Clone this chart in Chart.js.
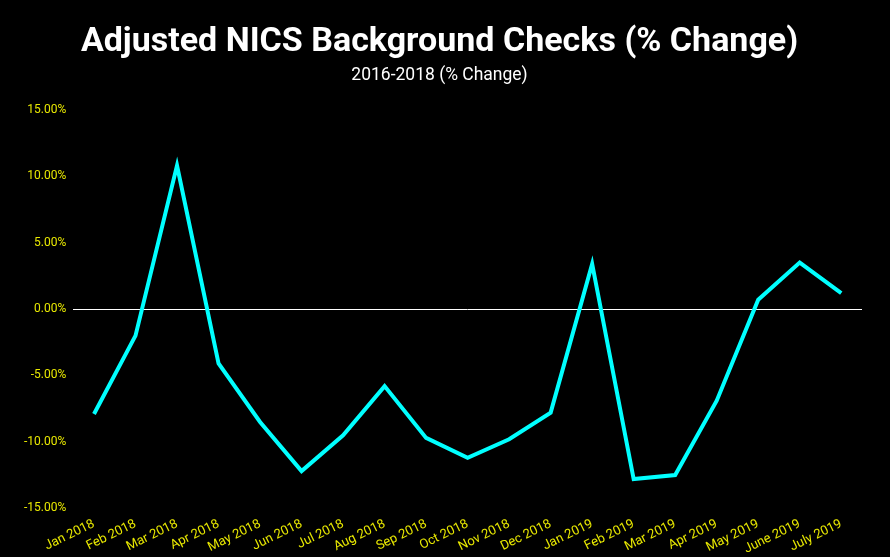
<!DOCTYPE html>
<html>
<head>
<meta charset="utf-8">
<title>Adjusted NICS Background Checks</title>
<script src="https://cdn.jsdelivr.net/npm/chart.js"></script>
<style>
  html, body { margin: 0; padding: 0; background: #000; }
  #wrap { width: 890px; height: 557px; }
</style>
</head>
<body>
<div id="wrap"><canvas id="nics"></canvas></div>
<script>
// Data
const months = ['Jan 2018', 'Feb 2018', 'Mar 2018', 'Apr 2018', 'May 2018', 'Jun 2018',
  'Jul 2018', 'Aug 2018', 'Sep 2018', 'Oct 2018', 'Nov 2018', 'Dec 2018',
  'Jan 2019', 'Feb 2019', 'Mar 2019', 'Apr 2019', 'May 2019', 'June 2019', 'July 2019'];
const pctChange = [-7.9, -2.0, 10.8, -4.1, -8.5, -12.2, -9.5, -5.8, -9.7, -11.2,
  -9.8, -7.8, 3.4, -12.8, -12.5, -6.9, 0.7, 3.5, 1.2];
const yMin = -15, yMax = 15, yStep = 5;

const tickColor = '#e8e800';
Chart.defaults.font.family = 'Roboto, sans-serif';

new Chart(document.getElementById('nics'), {
  type: 'line',
  data: {
    labels: months,
    datasets: [{
      label: '% Change',
      data: pctChange,
      borderColor: '#00ffff',
      borderWidth: 4,
      pointRadius: 0,
      tension: 0,
      fill: false
    }]
  },
  options: {
    responsive: true,
    maintainAspectRatio: false,
    animation: false,
    layout: { padding: { left: 17, right: 28, top: 4, bottom: 0 } },
    plugins: {
      legend: { display: false },
      tooltip: { enabled: false },
      title: {
        display: true,
        text: 'Adjusted NICS Background Checks (% Change)',
        color: '#fff',
        font: { size: 34, weight: 'bold' },
        padding: { top: 18, bottom: 0 }
      },
      subtitle: {
        display: true,
        text: '2016-2018 (% Change)',
        color: '#fff',
        font: { size: 17.5 },
        padding: { top: 2, bottom: 24 }
      }
    },
    scales: {
      x: {
        offset: true,
        grid: { display: false },
        border: { display: false },
        ticks: {
          color: tickColor,
          font: { size: 13 },
          minRotation: 26,
          maxRotation: 26,
          autoSkip: false,
          padding: 0
        }
      },
      y: {
        min: yMin,
        max: yMax,
        border: { display: false },
        grid: {
          drawTicks: false,
          color: ctx => ctx.tick && ctx.tick.value === 0 ? '#ffffff' : 'rgba(0,0,0,0)',
          lineWidth: 1
        },
        ticks: {
          stepSize: yStep,
          color: tickColor,
          font: { size: 12 },
          padding: 7,
          callback: v => v.toFixed(2) + '%'
        }
      }
    }
  }
});
</script>
</body>
</html>
